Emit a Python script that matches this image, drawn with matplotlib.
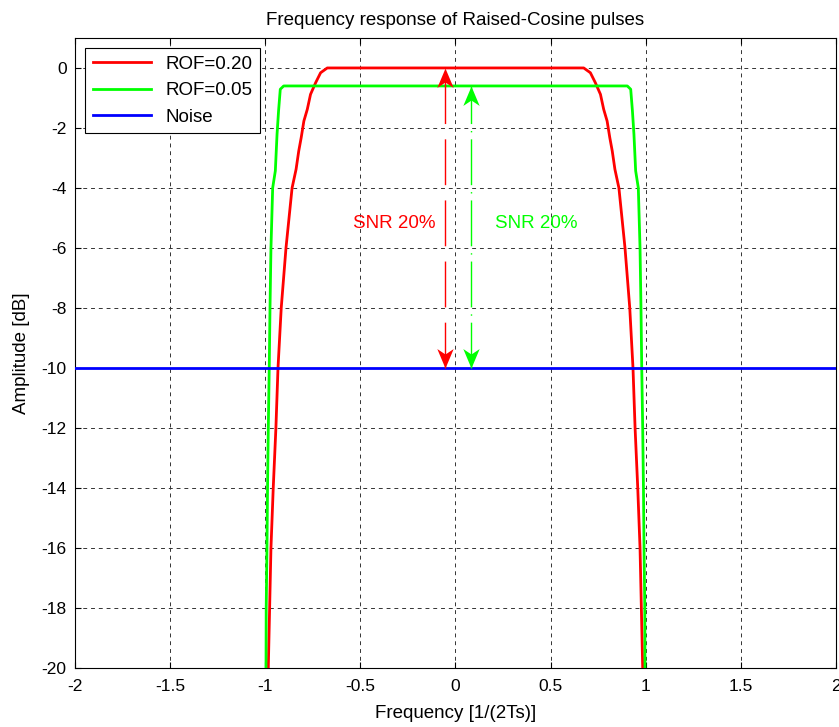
import matplotlib
matplotlib.use("Agg")
import matplotlib.pyplot as plt
from matplotlib.path import Path

plt.rcParams['font.family'] = ['Liberation Sans', 'DejaVu Sans']

# ---- data ----
rof20_x = [-0.990, -0.984, -0.977, -0.970, -0.958, -0.944, -0.933, -0.916, -0.891, -0.859,
           -0.838, -0.824, -0.811, -0.797, -0.779, -0.762, -0.735, -0.709, -0.674,
           0.674, 0.709, 0.735, 0.762, 0.779, 0.797, 0.811, 0.824, 0.838,
           0.859, 0.891, 0.916, 0.933, 0.944, 0.958, 0.970, 0.977, 0.984, 0.990]
rof20_y = [-22.0, -20.0, -18.0, -16.0, -14.0, -12.0, -10.0, -8.0, -6.0, -4.0,
           -3.38, -2.77, -2.32, -1.77, -1.38, -0.88, -0.49, -0.16, 0.0,
           0.0, -0.16, -0.49, -0.88, -1.38, -1.77, -2.32, -2.77, -3.38,
           -4.0, -6.0, -8.0, -10.0, -12.0, -14.0, -16.0, -18.0, -20.0, -22.0]

rof05_x = [-0.998, -0.996, -0.995, -0.991, -0.988, -0.984, -0.979, -0.975, -0.970, -0.961,
           -0.947, -0.938, -0.930, -0.921, -0.903,
           0.903, 0.921, 0.930, 0.938, 0.947,
           0.961, 0.970, 0.975, 0.979, 0.984, 0.988, 0.991, 0.995, 0.996, 0.998]
rof05_y = [-22.0, -20.0, -18.0, -16.0, -14.0, -12.0, -10.0, -8.0, -6.0, -4.0,
           -3.43, -2.21, -1.43, -0.71, -0.60,
           -0.60, -0.71, -1.43, -2.21, -3.43,
           -4.0, -6.0, -8.0, -10.0, -12.0, -14.0, -16.0, -18.0, -20.0, -22.0]

noise_x = [-2.0, 2.0]
noise_y = [-10.0, -10.0]

snr20_arrow_x = -0.053
snr20_arrow_y = [-10.0, 0.0]
snr05_arrow_x = 0.079
snr05_arrow_y = [-10.0, -0.6]

xticks = [-2, -1.5, -1, -0.5, 0, 0.5, 1, 1.5, 2]
xtick_labels = ['-2', '-1.5', '-1', '-0.5', '0', '0.5', '1', '1.5', '2']
yticks = [0, -2, -4, -6, -8, -10, -12, -14, -16, -18, -20]

# ---- figure ----
fig = plt.figure(figsize=(8.39, 7.27), dpi=100)
ax = fig.add_axes([0.0894, 0.0812, 0.9070, 0.8666])

ax.plot(rof20_x, rof20_y, color='#ff0000', lw=2.0, label='ROF=0.20', zorder=3)
ax.plot(rof05_x, rof05_y, color='#00ff00', lw=2.0, label='ROF=0.05', zorder=3)
ax.plot(noise_x, noise_y, color='#0000ff', lw=2.0, label='Noise', zorder=3)

# arrow heads as custom markers (tip at origin)
up_head = Path([(0, 0), (-0.42, -1.0), (0, -0.72), (0.42, -1.0), (0, 0)],
               [Path.MOVETO, Path.LINETO, Path.LINETO, Path.LINETO, Path.CLOSEPOLY])
down_head = Path([(0, 0), (-0.42, 1.0), (0, 0.72), (0.42, 1.0), (0, 0)],
                 [Path.MOVETO, Path.LINETO, Path.LINETO, Path.LINETO, Path.CLOSEPOLY])

def double_arrow(x, ys, color, dashes):
    lo, hi = ys
    ax.plot([x, x], [lo, hi], color=color, lw=1.0, linestyle=dashes, zorder=4)
    ax.plot([x], [hi], marker=up_head, markersize=28, color=color, mew=0, zorder=5)
    ax.plot([x], [lo], marker=down_head, markersize=28, color=color, mew=0, zorder=5)

double_arrow(snr20_arrow_x, snr20_arrow_y, '#ff0000', (0, (33, 11)))
double_arrow(snr05_arrow_x, snr05_arrow_y, '#00ff00', (0, (33, 5, 1, 5)))

ax.text(-0.32, -5.2, 'SNR 20%', color='#ff0000', fontsize=13.5, ha='center', va='center')
ax.text(0.426, -5.2, 'SNR 20%', color='#00ff00', fontsize=13.5, ha='center', va='center')

ax.set_xlim(-2, 2)
ax.set_ylim(-20, 1)
ax.set_xticks(xticks)
ax.set_xticklabels(xtick_labels)
ax.set_yticks(yticks)
ax.set_yticklabels([str(v) for v in yticks])
ax.tick_params(direction='in', top=True, right=True, labelsize=12.5, length=4, width=0.8)
ax.tick_params(axis='x', pad=8)
ax.tick_params(axis='y', pad=6)
ax.grid(True, color='#333333', linestyle=(0, (4, 4)), linewidth=0.7)
for s in ax.spines.values():
    s.set_linewidth(0.8)

ax.set_title('Frequency response of Raised-Cosine pulses', fontsize=13.5, pad=9)
ax.set_xlabel('Frequency [1/(2Ts)]', fontsize=13.5, labelpad=8)
ax.set_ylabel('Amplitude [dB]', fontsize=13.5, labelpad=8)

leg = ax.legend(loc='upper left', fontsize=13.5, fancybox=False, framealpha=1,
                edgecolor='black', handlelength=3.1, borderaxespad=0.55)
leg.get_frame().set_linewidth(0.8)

fig.savefig('out.png', dpi=100)
